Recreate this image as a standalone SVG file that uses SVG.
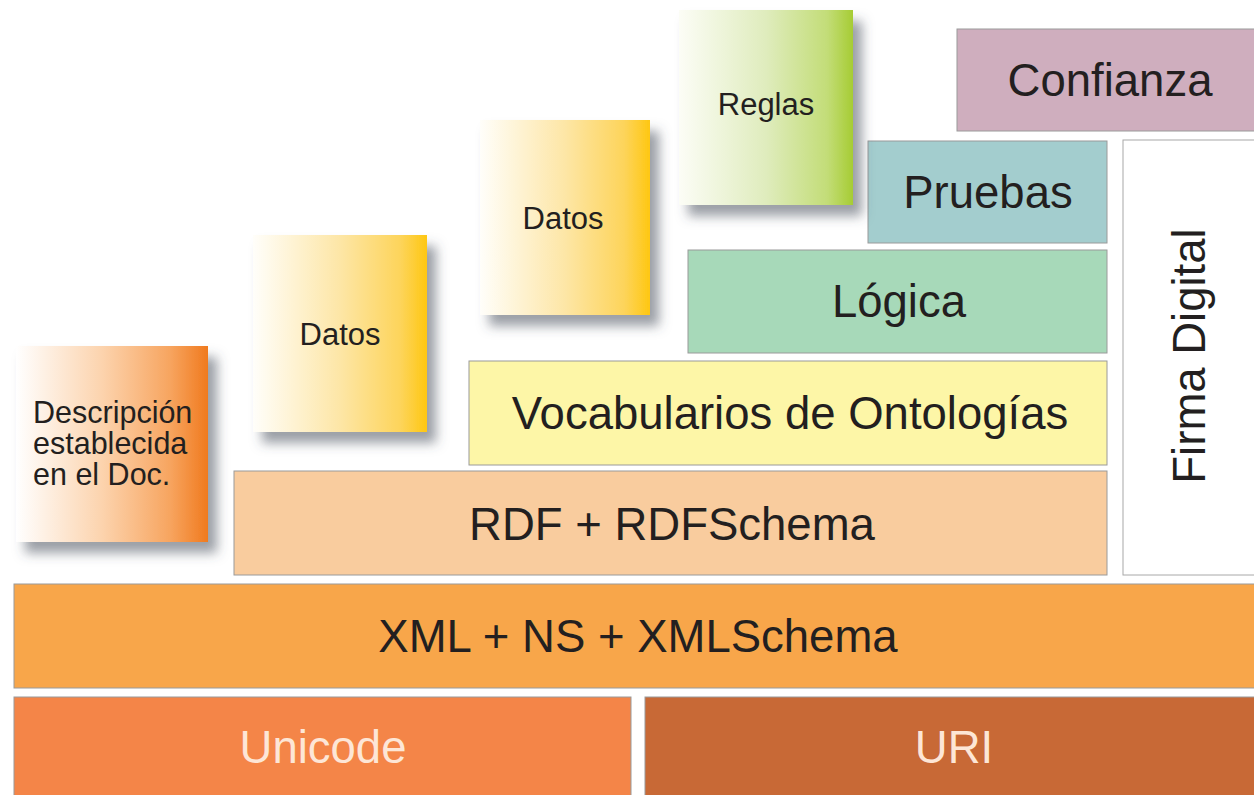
<svg xmlns="http://www.w3.org/2000/svg" width="1254" height="795" viewBox="0 0 1254 795">
<defs>
<linearGradient id="gOrange" x1="0" y1="0" x2="1" y2="0">
<stop offset="0" stop-color="#ffffff"/>
<stop offset="0.45" stop-color="#fcd3ad"/>
<stop offset="0.8" stop-color="#f7a560"/>
<stop offset="1" stop-color="#f07a1e"/>
</linearGradient>
<linearGradient id="gYellow" x1="0" y1="0" x2="1" y2="0">
<stop offset="0" stop-color="#fffefa"/>
<stop offset="0.5" stop-color="#fde6a6"/>
<stop offset="0.85" stop-color="#fdd45a"/>
<stop offset="1" stop-color="#fec712"/>
</linearGradient>
<linearGradient id="gGreen" x1="0" y1="0" x2="1" y2="0">
<stop offset="0" stop-color="#fcfdf6"/>
<stop offset="0.5" stop-color="#dfecbd"/>
<stop offset="0.85" stop-color="#c3dd78"/>
<stop offset="1" stop-color="#a6cc34"/>
</linearGradient>
<filter id="shadow" x="-20%" y="-20%" width="150%" height="150%">
<feDropShadow dx="9" dy="11" stdDeviation="6" flood-color="#4a4f5c" flood-opacity="0.55"/>
</filter>
</defs>
<style>
.layer{stroke:#9a9a9a;stroke-width:1}
.big{font-family:"Liberation Sans",Arial,sans-serif;font-size:45.5px;fill:#231f20;text-anchor:middle}
.light{fill:#fde6d6}
.small{font-family:"Liberation Sans",Arial,sans-serif;font-size:31px;fill:#231f20}
.desc{font-size:30.5px}
.mid{text-anchor:middle}
</style>
<rect width="1254" height="795" fill="#ffffff"/>

<g id="unicode"><rect class="layer" x="14" y="697" width="617" height="100" fill="#f48548"/><text class="big light" x="323" y="763">Unicode</text></g>
<g id="uri"><rect class="layer" x="645" y="697" width="612" height="100" fill="#c86936"/><text class="big light" x="954" y="763">URI</text></g>
<g id="xml"><rect class="layer" x="14" y="584" width="1243" height="104" fill="#f8a64a"/><text class="big" x="638" y="652">XML + NS + XMLSchema</text></g>
<g id="rdf"><rect class="layer" x="234" y="471" width="873" height="104" fill="#f9cc9e"/><text class="big" x="672" y="540">RDF + RDFSchema</text></g>
<g id="vocab"><rect class="layer" x="469" y="361" width="638" height="104" fill="#fdf6a7"/><text class="big" x="790" y="429">Vocabularios de Ontologías</text></g>
<g id="logica"><rect class="layer" x="688" y="250" width="419" height="103" fill="#a7d9b9"/><text class="big" x="899" y="317">Lógica</text></g>
<g id="pruebas"><rect class="layer" x="868" y="141" width="239" height="102" fill="#a3cdce"/><text class="big" x="988" y="208">Pruebas</text></g>
<g id="confianza"><rect class="layer" x="957" y="29" width="300" height="102" fill="#cfaebe"/><text class="big" x="1110" y="96">Confianza</text></g>
<g id="firma"><rect x="1123" y="140" width="134" height="435" fill="#ffffff" stroke="#a8a8a8" stroke-width="1"/><text class="big" transform="translate(1205,356) rotate(-90)" x="0" y="0">Firma Digital</text></g>

<g id="descripcion"><rect x="16" y="346" width="192" height="196" fill="url(#gOrange)" filter="url(#shadow)"/>
<text class="small desc" x="33" y="423">Descripción</text>
<text class="small desc" x="33" y="454">establecida</text>
<text class="small desc" x="33" y="485">en el Doc.</text></g>
<g id="datos1"><rect x="253" y="235" width="174" height="197" fill="url(#gYellow)" filter="url(#shadow)"/><text class="small mid" x="340" y="345">Datos</text></g>
<g id="datos2"><rect x="480" y="120" width="170" height="195" fill="url(#gYellow)" filter="url(#shadow)"/><text class="small mid" x="563" y="229">Datos</text></g>
<g id="reglas"><rect x="679" y="10" width="174" height="195" fill="url(#gGreen)" filter="url(#shadow)"/><text class="small mid" x="766" y="115">Reglas</text></g>

<g id="connectors"></g>
</svg>
